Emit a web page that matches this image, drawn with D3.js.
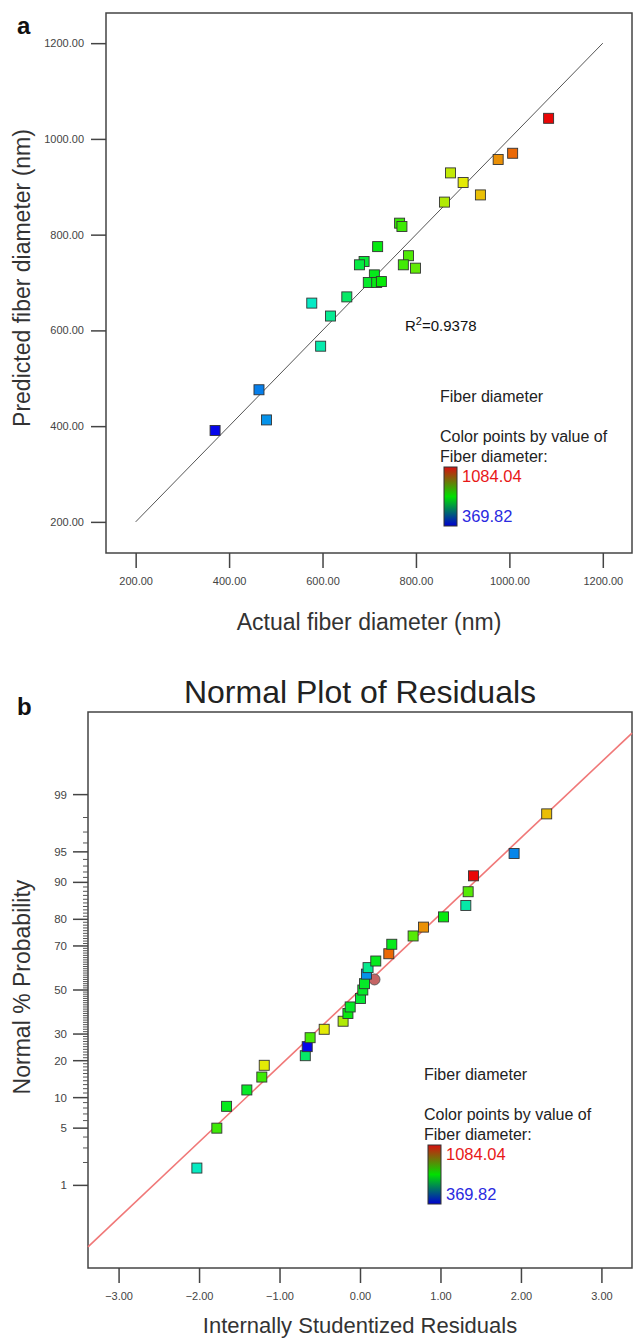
<!DOCTYPE html>
<html>
<head>
<meta charset="utf-8">
<script src="https://cdn.jsdelivr.net/npm/d3@7"></script>
<style>
  body { margin: 0; background: #fff; }
  text { font-family: "Liberation Sans", Arial, sans-serif; }
</style>
</head>
<body>
<script>
// ---- panel a: actual vs predicted fiber diameter (nm)
const actualA    = [1084, 1007, 976, 874, 901, 938, 861, 765, 770, 718, 784, 773, 799, 689, 679, 711, 698, 716, 726, 652, 577, 617, 596, 464, 480, 370];
const predictedA = [1043,  970, 957, 929, 909, 883, 868, 824, 817, 775, 756, 737, 730, 744, 737, 716, 700, 700, 702, 670, 657, 630, 567, 476, 413, 391];
const fitLineA   = [200, 1200];
const ticksA     = [200, 400, 600, 800, 1000, 1200];
const r2Label    = "0.9378";

// ---- panel b: normal plot of residuals
const residualsB = [-2.027, -1.779, -1.658, -1.406, -1.22, -1.19, -0.68, -0.656, -0.62, -0.445, -0.21, -0.15, -0.122, 0.006, 0.035, 0.056, 0.08, 0.10, 0.196, 0.358, 0.395, 0.66, 0.789, 1.037, 1.315, 1.344, 1.41, 1.915, 2.32];
const probB      = [1.7, 5.0, 8.3, 11.7, 15.0, 18.5, 21.7, 25.0, 28.5, 32.0, 35.5, 39.0, 42.0, 46.0, 50.0, 53.0, 57.5, 60.5, 63.5, 66.7, 70.7, 74.0, 77.3, 80.8, 84.3, 87.9, 91.3, 94.8, 98.2];
const diamB      = [580, 770, 710, 700, 770, 900, 650, 370, 780, 900, 860, 720, 700, 690, 700, 700, 480, 620, 710, 1007, 710, 790, 975, 720, 600, 790, 1084, 470, 940];
const circleB    = [0.18, 55];   // highlighted run (residual, %)
const normLine   = [-3.38, 3.38];
const normSlope  = 0.905;
const probMajor  = [1, 5, 10, 20, 30, 50, 70, 80, 90, 95, 99];
const ticksB     = [-3, -2, -1, 0, 1, 2, 3];

const colorMin = 369.82, colorMax = 1084.04;

const W = 633, H = 1340;
const svg = d3.select("body").append("svg")
    .attr("width", W).attr("height", H)
    .style("display", "block");

const color = d3.scaleLinear()
    .domain([colorMin, (colorMin + colorMax) / 2, colorMax])
    .range(["hsl(240,95%,47%)", "hsl(120,95%,47%)", "hsl(0,95%,47%)"])
    .interpolate(d3.interpolateHsl);

// gradient for legend bar
const defs = svg.append("defs");
const grad = defs.append("linearGradient").attr("id", "legGrad")
    .attr("x1", 0).attr("y1", 0).attr("x2", 0).attr("y2", 1);
grad.append("stop").attr("offset", "0%").attr("stop-color", "#d81010");
grad.append("stop").attr("offset", "50%").attr("stop-color", "#00e000");
grad.append("stop").attr("offset", "100%").attr("stop-color", "#0000d0");

function legend(g, x, y) {
    g.append("text").attr("x", x).attr("y", y).text("Fiber diameter")
        .attr("font-size", 16).attr("fill", "#222");
    g.append("text").attr("x", x).attr("y", y + 40).text("Color points by value of")
        .attr("font-size", 16).attr("fill", "#222");
    g.append("text").attr("x", x).attr("y", y + 60).text("Fiber diameter:")
        .attr("font-size", 16).attr("fill", "#222");
    g.append("rect").attr("x", x + 4).attr("y", y + 65).attr("width", 13).attr("height", 59)
        .attr("fill", "url(#legGrad)").attr("stroke", "#333").attr("stroke-width", 1);
    g.append("text").attr("x", x + 22).attr("y", y + 80).text(colorMax.toFixed(2))
        .attr("font-size", 16.5).attr("fill", "#e81818");
    g.append("text").attr("x", x + 22).attr("y", y + 120).text(colorMin.toFixed(2))
        .attr("font-size", 16.5).attr("fill", "#2a2ae0");
}

function square(sel, size) {
    sel.attr("width", size).attr("height", size)
        .attr("stroke", "#333").attr("stroke-width", 0.9);
}

// ================= panel a =================
const ga = svg.append("g");
const xA = d3.scaleLinear().domain([136.5, 1262.5]).range([106, 632]);
const yA = d3.scaleLinear().domain([135, 1263]).range([553, 13]);

ga.append("rect").attr("x", 106).attr("y", 13).attr("width", 526).attr("height", 540)
    .attr("fill", "none").attr("stroke", "#444").attr("stroke-width", 1.5);

const axXA = ga.append("g").attr("transform", "translate(0,553)")
    .call(d3.axisBottom(xA).tickValues(ticksA).tickFormat(d3.format(".2f")).tickSize(15).tickPadding(9));
const axYA = ga.append("g").attr("transform", "translate(106,0)")
    .call(d3.axisLeft(yA).tickValues(ticksA).tickFormat(d3.format(".2f")).tickSize(15).tickPadding(7));
[axXA, axYA].forEach(a => {
    a.select(".domain").remove();
    a.selectAll("line").attr("stroke", "#444").attr("stroke-width", 1.5);
    a.selectAll("text").attr("font-size", 11).attr("fill", "#444")
        .attr("font-family", "'Liberation Sans', Arial, sans-serif");
});

ga.append("line")
    .attr("x1", xA(fitLineA[0])).attr("y1", yA(fitLineA[0]))
    .attr("x2", xA(fitLineA[1])).attr("y2", yA(fitLineA[1]))
    .attr("stroke", "#555").attr("stroke-width", 1);

ga.append("g").selectAll("rect")
    .data(actualA.map((d, i) => [d, predictedA[i]]))
    .join("rect")
    .attr("x", d => xA(d[0]) - 5).attr("y", d => yA(d[1]) - 5)
    .attr("fill", d => color(d[0]))
    .call(square, 10);

const r2 = ga.append("text").attr("x", 405).attr("y", 331)
    .attr("font-family", "'Liberation Serif', 'Times New Roman', serif")
    .attr("font-size", 15).attr("fill", "#111");
r2.append("tspan").text("R");
r2.append("tspan").attr("dy", -6).attr("font-size", 11).text("2");
r2.append("tspan").attr("dy", 6).text("=" + r2Label);

legend(ga.append("g"), 440, 402);

ga.append("text").attr("x", 17).attr("y", 34).text("a")
    .attr("font-size", 24).attr("font-weight", "bold").attr("fill", "#111");
ga.append("text").attr("x", 369).attr("y", 630).attr("text-anchor", "middle")
    .text("Actual fiber diameter (nm)").attr("font-size", 23).attr("fill", "#333");
ga.append("text").attr("transform", "translate(30,278) rotate(-90)").attr("text-anchor", "middle")
    .text("Predicted fiber diameter (nm)").attr("font-size", 23).attr("fill", "#333");

// ================= panel b =================
const gb = svg.append("g");
const xB = d3.scaleLinear().domain([-3.38, 3.38]).range([88, 632]);
const zB = d3.scaleLinear().domain([-3.31, 3.31]).range([1268, 712]);

// inverse normal CDF (Acklam) to place percentages on the probability axis
function probit(p) {
    const a = [-39.69683028665376, 220.9460984245205, -275.9285104469687, 138.3577518672690, -30.66479806614716, 2.506628277459239];
    const b = [-54.47609879822406, 161.5858368580409, -155.6989798598866, 66.80131188771972, -13.28068155288572];
    const c = [-0.007784894002430293, -0.3223964580411365, -2.400758277161838, -2.549732539343734, 4.374664141464968, 2.938163982698783];
    const dd = [0.007784695709041462, 0.3224671290700398, 2.445134137142996, 3.754408661907416];
    const pl = 0.02425;
    let q, r;
    if (p < pl) {
        q = Math.sqrt(-2 * Math.log(p));
        return (((((c[0]*q+c[1])*q+c[2])*q+c[3])*q+c[4])*q+c[5]) / ((((dd[0]*q+dd[1])*q+dd[2])*q+dd[3])*q+1);
    } else if (p <= 1 - pl) {
        q = p - 0.5; r = q * q;
        return (((((a[0]*r+a[1])*r+a[2])*r+a[3])*r+a[4])*r+a[5])*q / (((((b[0]*r+b[1])*r+b[2])*r+b[3])*r+b[4])*r+1);
    }
    q = Math.sqrt(-2 * Math.log(1 - p));
    return -(((((c[0]*q+c[1])*q+c[2])*q+c[3])*q+c[4])*q+c[5]) / ((((dd[0]*q+dd[1])*q+dd[2])*q+dd[3])*q+1);
}
const yB = pct => zB(probit(pct / 100));

gb.append("text").attr("x", 360).attr("y", 703).attr("text-anchor", "middle")
    .text("Normal Plot of Residuals").attr("font-size", 32).attr("fill", "#222");

gb.append("rect").attr("x", 88).attr("y", 712).attr("width", 544).attr("height", 556)
    .attr("fill", "none").attr("stroke", "#444").attr("stroke-width", 1.5);

const axXB = gb.append("g").attr("transform", "translate(0,1268)")
    .call(d3.axisBottom(xB).tickValues(ticksB).tickFormat(d3.format(".2f")).tickSize(15).tickPadding(9));
axXB.select(".domain").remove();
axXB.selectAll("line").attr("stroke", "#444").attr("stroke-width", 1.5);
axXB.selectAll("text").attr("font-size", 11).attr("fill", "#444")
    .attr("font-family", "'Liberation Sans', Arial, sans-serif");

// probability axis: minor ticks every 1 %, major labelled
gb.append("g").selectAll("line")
    .data(d3.range(1, 100).filter(p => !probMajor.includes(p)))
    .join("line")
    .attr("x1", 83).attr("x2", 88)
    .attr("y1", d => yB(d)).attr("y2", d => yB(d))
    .attr("stroke", "#555").attr("stroke-width", 1);
gb.append("g").selectAll("line")
    .data(probMajor)
    .join("line")
    .attr("x1", 73).attr("x2", 88)
    .attr("y1", d => yB(d)).attr("y2", d => yB(d))
    .attr("stroke", "#444").attr("stroke-width", 1.5);
gb.append("g").selectAll("text")
    .data(probMajor)
    .join("text")
    .attr("x", 67).attr("y", d => yB(d) + 4)
    .attr("text-anchor", "end")
    .attr("font-size", 11.5).attr("fill", "#444")
    .text(d => d);

gb.append("line")
    .attr("x1", xB(normLine[0])).attr("y1", zB(normLine[0] * normSlope))
    .attr("x2", xB(normLine[1])).attr("y2", zB(normLine[1] * normSlope))
    .attr("stroke", "#f07878").attr("stroke-width", 1.6);

gb.append("circle")
    .attr("cx", xB(circleB[0])).attr("cy", yB(circleB[1])).attr("r", 5.5)
    .attr("fill", "#c46464").attr("stroke", "#555").attr("stroke-width", 0.9);

gb.append("g").selectAll("rect")
    .data(residualsB.map((d, i) => [d, probB[i], diamB[i]]))
    .join("rect")
    .attr("x", d => xB(d[0]) - 5).attr("y", d => yB(d[1]) - 5)
    .attr("fill", d => color(d[2]))
    .call(square, 10);

legend(gb.append("g"), 424, 1080);

gb.append("text").attr("x", 17).attr("y", 715).text("b")
    .attr("font-size", 24).attr("font-weight", "bold").attr("fill", "#111");
gb.append("text").attr("x", 360).attr("y", 1333).attr("text-anchor", "middle")
    .text("Internally Studentized Residuals").attr("font-size", 22).attr("fill", "#333");
gb.append("text").attr("transform", "translate(30,987) rotate(-90)").attr("text-anchor", "middle")
    .text("Normal % Probability").attr("font-size", 23).attr("fill", "#333");
</script>
</body>
</html>
